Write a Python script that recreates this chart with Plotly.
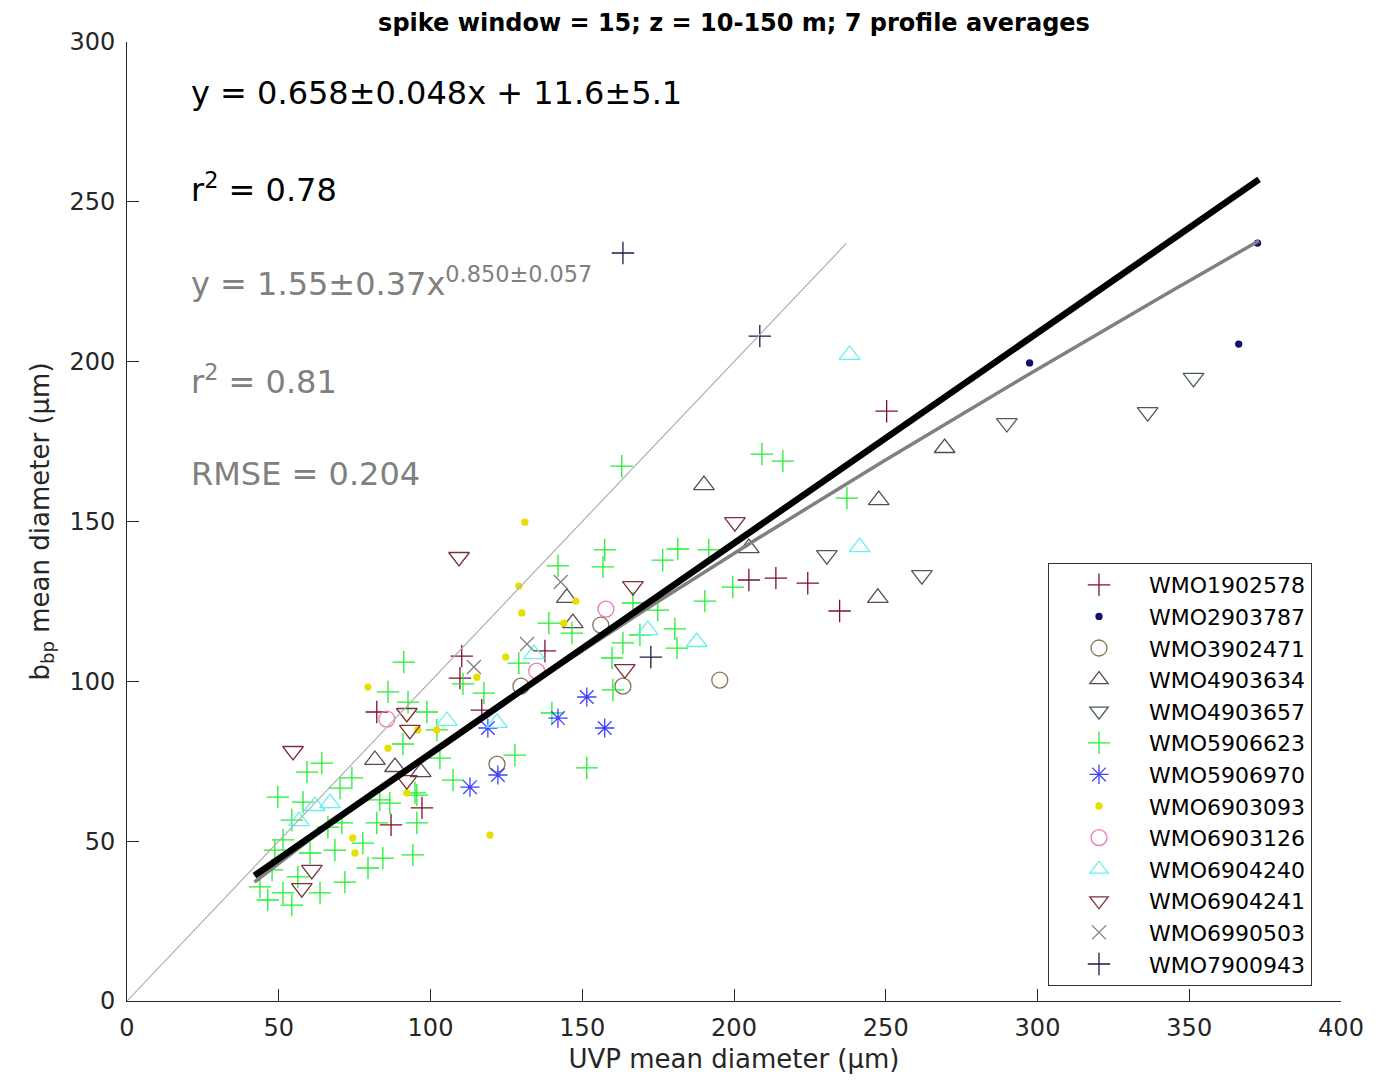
import numpy as np
import plotly.graph_objects as go

# ---------------- data ----------------
wmo1902578_x = [250.3, 204.9, 213.8, 224.3, 234.8, 110.3, 109.7, 82.3, 97.2, 87.0, 137.7, 116.9]
wmo1902578_y = [184.5, 131.7, 132.3, 130.7, 122.0, 107.9, 101.0, 90.4, 60.4, 55.1, 109.5, 91.0]

wmo2903787_x = [297.4, 366.3, 372.5]
wmo2903787_y = [199.6, 205.5, 237.1]

wmo3902471_x = [195.3, 121.9, 129.8, 163.4, 156.1]
wmo3902471_y = [100.4, 74.1, 98.5, 98.5, 117.6]

wmo4903634_x = [190.1, 247.7, 269.4, 247.4, 204.9, 144.9, 146.9, 81.7, 88.3, 96.8]
wmo4903634_y = [161.4, 156.7, 173.0, 126.1, 141.7, 126.1, 118.2, 75.4, 73.2, 71.6]

wmo4903657_x = [289.9, 336.3, 351.4, 230.6, 261.9]
wmo4903657_y = [180.8, 184.2, 194.9, 139.5, 133.2]

wmo5906623_x = [163.0, 157.4, 156.8, 142.0, 176.5, 181.5, 191.7, 199.6, 190.4, 174.9,
                166.7, 180.5, 181.2, 169.0, 163.4, 159.8, 146.6, 139.0, 129.1, 117.6,
                160.1, 110.7, 91.2, 98.8, 102.1, 127.8, 140.0, 151.5, 107.4, 94.9,
                90.9, 209.2, 216.1, 237.2, 86.0, 92.6, 103.1, 64.2, 59.3, 74.1,
                70.2, 49.7, 58.0, 83.3, 86.6, 95.5, 82.3, 95.5, 70.8, 66.2,
                54.3, 51.4, 77.7, 68.5, 60.3, 94.2, 84.3, 79.4, 48.7, 47.8,
                43.8, 56.3, 63.6, 71.8, 46.4, 54.3, 51.4]
wmo5906623_y = [167.3, 141.1, 135.8, 136.1, 137.9, 141.4, 141.1, 129.5, 125.1, 122.3,
                124.5, 116.4, 110.4, 114.5, 112.0, 107.3, 115.1, 118.2, 105.7, 96.3,
                97.3, 99.2, 106.0, 90.4, 84.8, 76.9, 90.1, 72.9, 69.1, 65.1,
                80.4, 171.1, 168.9, 157.3, 96.7, 93.5, 76.0, 74.4, 71.6, 69.8,
                66.6, 63.8, 62.2, 62.9, 61.9, 64.4, 55.7, 55.7, 55.7, 54.4,
                56.6, 50.4, 49.4, 47.2, 46.3, 45.7, 44.7, 41.6, 47.2, 41.0,
                35.7, 38.8, 33.8, 37.2, 31.6, 30.0, 33.8]

wmo5906970_x = [151.5, 157.4, 142.0, 122.2, 113.0, 118.9]
wmo5906970_y = [95.1, 85.4, 88.5, 70.7, 66.9, 85.4]

wmo6903093_x = [131.1, 129.1, 130.1, 147.9, 143.9, 124.8, 115.3, 102.1, 95.8, 92.2,
                79.4, 86.0, 74.4, 75.1, 119.6]
wmo6903093_y = [149.8, 129.8, 121.4, 125.1, 118.2, 107.6, 101.3, 84.8, 84.8, 65.1,
                98.2, 79.1, 51.0, 46.3, 51.9]

wmo6903126_x = [157.8, 135.0, 85.6]
wmo6903126_y = [122.6, 103.2, 88.2]

wmo6904240_x = [238.1, 241.4, 187.7, 171.6, 134.1, 121.9, 105.4, 66.9, 61.9, 56.7]
wmo6904240_y = [202.1, 142.0, 112.3, 116.0, 108.5, 87.0, 87.6, 61.9, 61.0, 56.3]

wmo6904241_x = [54.7, 92.2, 93.2, 60.9, 57.6, 109.4, 200.3, 166.7, 164.0, 92.2]
wmo6904241_y = [78.2, 90.1, 84.8, 41.0, 35.3, 138.9, 149.8, 129.8, 103.8, 69.1]

wmo6990503_x = [142.9, 131.8, 114.3]
wmo6990503_y = [131.1, 111.7, 104.5]

wmo7900943_x = [163.4, 208.5, 172.6]
wmo7900943_y = [234.0, 208.0, 107.6]

# fits
lin_slope, lin_intercept = 0.658, 11.6
pow_coef, pow_exp = 1.55, 0.850
fit_x_range = [42.0, 373.0]
one_to_one = [0.0, 237.0]

x_ticks = [0, 50, 100, 150, 200, 250, 300, 350, 400]
y_ticks = [0, 50, 100, 150, 200, 250, 300]

title_text = "spike window = 15; z = 10-150 m; 7 profile averages"

# ---------------- figure ----------------
FONT = "DejaVu Sans, Liberation Sans, Arial, sans-serif"

series = [
    ("WMO1902578", wmo1902578_x, wmo1902578_y, "cross-thin-open", 16, "#7d1030"),
    ("WMO2903787", wmo2903787_x, wmo2903787_y, "circle", 6, "#10106e"),
    ("WMO3902471", wmo3902471_x, wmo3902471_y, "circle-open", 16, "#857558"),
    ("WMO4903634", wmo4903634_x, wmo4903634_y, "triangle-up-open", 18, "#5e4858"),
    ("WMO4903657", wmo4903657_x, wmo4903657_y, "triangle-down-open", 18, "#4d5b5b"),
    ("WMO5906623", wmo5906623_x, wmo5906623_y, "cross-thin-open", 16, "#22ee33"),
    ("WMO5906970", wmo5906970_x, wmo5906970_y, "asterisk-open", 16, "#4040ff"),
    ("WMO6903093", wmo6903093_x, wmo6903093_y, "circle", 6, "#e6e000"),
    ("WMO6903126", wmo6903126_x, wmo6903126_y, "circle-open", 16, "#ee77bb"),
    ("WMO6904240", wmo6904240_x, wmo6904240_y, "triangle-up-open", 18, "#66f0f0"),
    ("WMO6904241", wmo6904241_x, wmo6904241_y, "triangle-down-open", 18, "#7a3038"),
    ("WMO6990503", wmo6990503_x, wmo6990503_y, "x-thin-open", 14, "#808080"),
    ("WMO7900943", wmo7900943_x, wmo7900943_y, "cross-thin-open", 16, "#1a1a4a"),
]

fig = go.Figure()

for name, xs, ys, sym, size, col in series:
    marker = dict(symbol=sym, size=size, color=col, line=dict(color=col, width=1.3))
    fig.add_trace(go.Scatter(x=xs, y=ys, mode="markers", name=name, marker=marker))

# 1:1 line
fig.add_trace(go.Scatter(x=one_to_one, y=one_to_one, mode="lines",
                         line=dict(color="#b0b0b0", width=1.2), showlegend=False, hoverinfo="skip"))
# power fit
xf = np.linspace(fit_x_range[0], fit_x_range[1], 200)
fig.add_trace(go.Scatter(x=xf, y=pow_coef * xf ** pow_exp, mode="lines",
                         line=dict(color="#808080", width=3.5), showlegend=False, hoverinfo="skip"))
# linear fit
fig.add_trace(go.Scatter(x=fit_x_range, y=[lin_slope * v + lin_intercept for v in fit_x_range],
                         mode="lines", line=dict(color="#000000", width=6.5),
                         showlegend=False, hoverinfo="skip"))

axis_common = dict(
    showgrid=False, zeroline=False, showline=True, linecolor="#262626", linewidth=1,
    ticks="inside", ticklen=12, tickcolor="#262626", tickwidth=1,
    tickfont=dict(family=FONT, size=24, color="#262626"),
    mirror=False,
)

# The page body has an 8 px margin, so the figure is 16 px smaller than the window
# and all page positions below are shifted by 8 px.
OFF = 8
W, H = 1389 - 2 * OFF, 1082 - 2 * OFF
PL, PR, PT, PB = 127, 1341, 42, 1001          # plot area in page pixels
L, R, T, B = PL - OFF, (W + OFF) - PR, PT - OFF, (H + OFF) - PB
pw, ph = PR - PL, PB - PT

fig.update_xaxes(range=[0, 400], tickvals=x_ticks, ticktext=[str(t) for t in x_ticks],
                 title=dict(text="UVP mean diameter (μm)", font=dict(family=FONT, size=26, color="#262626"),
                            standoff=15),
                 ticklabelstandoff=5, **axis_common)
fig.update_yaxes(range=[0, 300], tickvals=y_ticks, ticktext=[str(t) for t in y_ticks],
                 title=dict(text="b<sub>bp</sub> mean diameter (μm)",
                            font=dict(family=FONT, size=26, color="#262626"), standoff=12),
                 ticklabelstandoff=6, **axis_common)

ann_font_black = dict(family=FONT, size=32, color="#000000")
ann_font_gray = dict(family=FONT, size=32, color="#808080")
annotations = [
    dict(text="y = 0.658±0.048x + 11.6±5.1", x=189, y=93, font=ann_font_black),
    dict(text="r<sup>2</sup> = 0.78", x=189, y=188, font=ann_font_black),
    dict(text="y = 1.55±0.37x<sup>0.850±0.057</sup>", x=189, y=282, font=ann_font_gray),
    dict(text="r<sup>2</sup> = 0.81", x=189, y=380, font=ann_font_gray),
    dict(text="RMSE = 0.204", x=189, y=474, font=ann_font_gray),
]
for a in annotations:
    fig.add_annotation(text=a["text"], xref="paper", yref="paper",
                       x=(a["x"] - PL) / pw, y=(PB - a["y"]) / ph,
                       xanchor="left", yanchor="middle", showarrow=False, font=a["font"])

fig.update_layout(
    width=W, height=H,
    margin=dict(l=L, r=R, t=T, b=B, autoexpand=False),
    paper_bgcolor="white", plot_bgcolor="white",
    title=dict(text="<b>" + title_text + "</b>", x=(734 - PL) / pw, xref="paper", xanchor="center",
               y=1 - (23 - OFF) / H, yref="container", yanchor="middle",
               font=dict(family=FONT, size=24, color="#000000")),
    legend=dict(x=(1048 - PL) / pw, y=(PB - 563) / ph, xanchor="left", yanchor="top",
                bgcolor="white", bordercolor="#333333", borderwidth=1,
                font=dict(family=FONT, size=22, color="#000000"),
                itemwidth=90, tracegroupgap=0),
    showlegend=True,
)

fig.write_html("out.html")
